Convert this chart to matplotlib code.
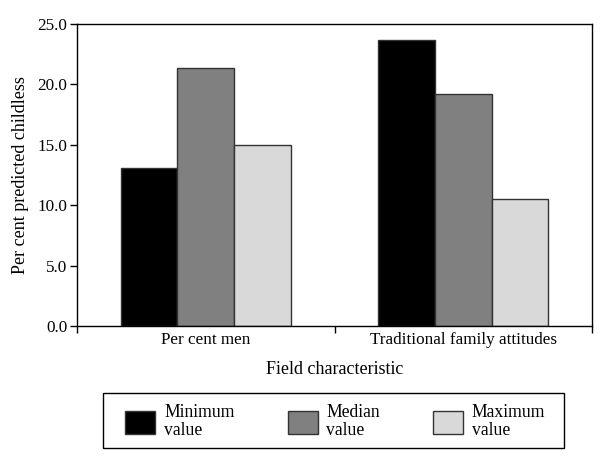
import matplotlib
matplotlib.use("Agg")
import matplotlib.pyplot as plt
from matplotlib.patches import Rectangle
import numpy as np

categories = ["Per cent men", "Traditional family attitudes"]
series_names = ["Minimum\nvalue", "Median\nvalue", "Maximum\nvalue"]
minimum_vals = [13.05, 23.7]
median_vals = [21.4, 19.2]
maximum_vals = [15.0, 10.5]
colors = ["#000000", "#808080", "#d9d9d9"]
y_ticks = [0, 5, 10, 15, 20, 25]

plt.rcParams['font.family'] = ['Liberation Serif', 'DejaVu Serif']

W, H = 600, 461
fig = plt.figure(figsize=(W / 100, H / 100), dpi=100)
ax = fig.add_axes([0.1283, 0.2928, 0.8584, 0.6551])

x = np.arange(len(categories)) + 0.5
w = 0.22
handles = []
for i, (vals, c) in enumerate(zip([minimum_vals, median_vals, maximum_vals], colors)):
    b = ax.bar(x + (i - 1) * w, vals, width=w, color=c, edgecolor="#333333",
               linewidth=1.0, label=series_names[i])
    handles.append(b)

ax.set_xlim(0, 2)
ax.set_ylim(0, 25)
ax.set_yticks(y_ticks)
ax.set_yticklabels([f"{v:.1f}" for v in y_ticks], fontsize=12.3)
ax.set_xticks([0, 1, 2])
ax.set_xticklabels([])
ax.set_xticks(x, minor=True)
ax.set_xticklabels(categories, minor=True, fontsize=12.3)
ax.tick_params(axis='x', which='minor', length=0, pad=4)
ax.tick_params(axis='x', which='major', length=5, width=1, direction='out')
ax.tick_params(axis='y', length=5, width=1, direction='out', pad=2)
for s in ax.spines.values():
    s.set_linewidth(1.0)
    s.set_color("black")

ax.set_ylabel("Per cent predicted childless", fontsize=13, labelpad=6)
ax.set_xlabel("Field characteristic", fontsize=13, labelpad=10)

leg = fig.legend(handles=handles, labels=series_names, loc='center',
                 bbox_to_anchor=(0.5590, 0.0852), ncol=3, fontsize=12.7,
                 frameon=False,
                 handlelength=1.7, handleheight=1.7, handletextpad=0.5,
                 columnspacing=3.0, borderpad=0.6, borderaxespad=0)
for t in leg.get_texts():
    t.set_linespacing(1.05)

# legend frame box
x0, x1 = 103.3, 564.3
y0, y1 = 393.3, 448.3
fig.patches.append(Rectangle((x0 / W, 1 - y1 / H), (x1 - x0) / W, (y1 - y0) / H,
                             transform=fig.transFigure, fill=False,
                             edgecolor='black', linewidth=1.0))

fig.savefig("out.png", dpi=100)
